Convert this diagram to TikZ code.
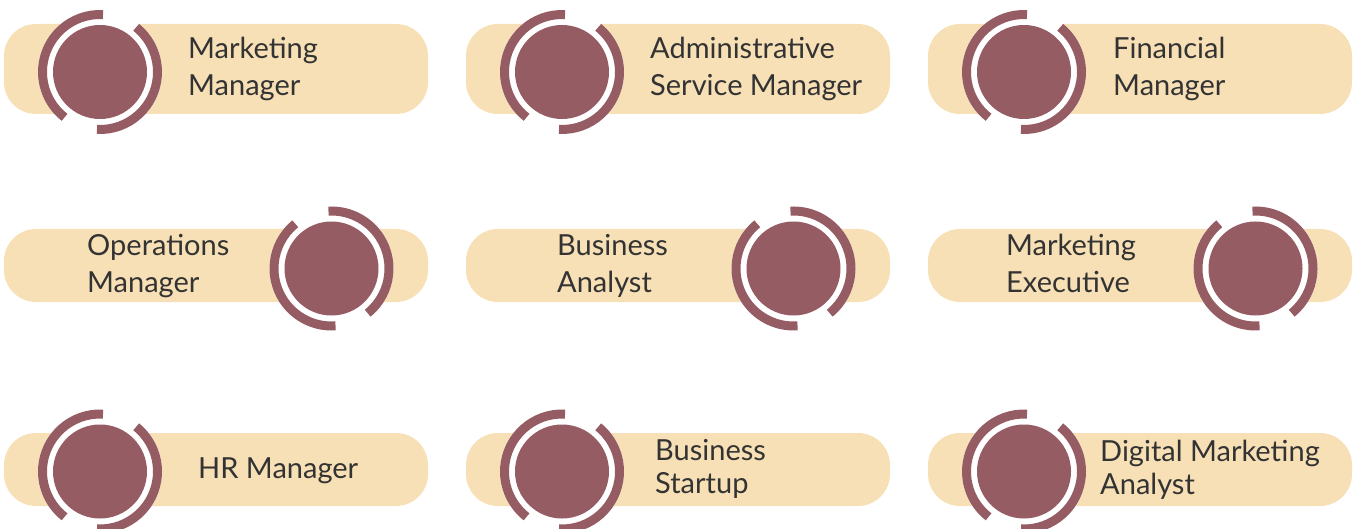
\documentclass[tikz,border=0pt]{standalone}
\usepackage{fontspec}
\setmainfont{Lato}
\usepackage{xcolor}
\usetikzlibrary{positioning,calc}
\definecolor{pillfill}{HTML}{F7E0B5}
\definecolor{ringred}{HTML}{955C64}
\definecolor{roleink}{HTML}{333333}

\begin{document}
\begin{tikzpicture}[x=1pt, y=1pt,
    pill/.style={fill=pillfill, rounded corners=32pt},
    ring/.style={draw=ringred, line width=9pt},
    roletext/.style={anchor=base west, align=left, inner sep=0pt, text=roleink,
      font=\fontsize{29}{37}\selectfont},
    roletight/.style={roletext, font=\fontsize{29}{33}\selectfont}]
        \useasboundingbox (0,0) rectangle (1362,528);
        \clip (0,0) rectangle (1362,528);
        % Faixas de fundo (três linhas de três)
        \fill[pill] (4,414) rectangle (428,504);
        \fill[pill] (466,414) rectangle (890,504);
        \fill[pill] (928,414) rectangle (1352,504);
        \fill[pill] (4,226) rectangle (428,299);
        \fill[pill] (466,226) rectangle (890,299);
        \fill[pill] (928,226) rectangle (1352,299);
        \fill[pill] (4,22) rectangle (428,95);
        \fill[pill] (466,22) rectangle (890,95);
        \fill[pill] (928,22) rectangle (1352,95);
        % Emblemas: disco, anel branco e dois arcos (\a gira os arcos)
        \foreach \cx/\cy/\a in {100/456/0, 562/456/0, 1024/456/0,
                                331.5/259.5/42, 793.5/259.5/42, 1255.5/259.5/42,
                                100/56.5/0, 562/56.5/0, 1024/56.5/0}{
          \fill[white] (\cx,\cy) circle (62);
          \draw[ring] ([shift={(87+\a:57.5)}]\cx,\cy) arc (87+\a:232+\a:57.5);
          \draw[ring] ([shift={(267+\a:57.5)}]\cx,\cy) arc (267+\a:411+\a:57.5);
          \fill[ringred] (\cx,\cy) circle (47);
        }
        % Rótulos (a base é a da última linha)
        \node[roletext] (mktmgr) at (188,432) {Marketing\\Manager};
        \node[roletext] (adminmgr) at (650,432) {Administrative\\Service Manager};
        \node[roletext] (finmgr) at (1113,432) {Financial\\Manager};
        \node[roletext] (opsmgr) at (87,236) {Operations\\Manager};
        \node[roletext] (busanalyst) at (557,236) {Business\\Analyst};
        \node[roletext] (mktexec) at (1006,236) {Marketing\\Executive};
        \node[roletext] (hrmgr) at (198,50) {HR Manager};
        \node[roletight] (busstartup) at (655,35) {Business\\Startup};
        \node[roletight] (digianalyst) at (1100,34) {Digital Marketing\\Analyst};
\end{tikzpicture}
\end{document}
